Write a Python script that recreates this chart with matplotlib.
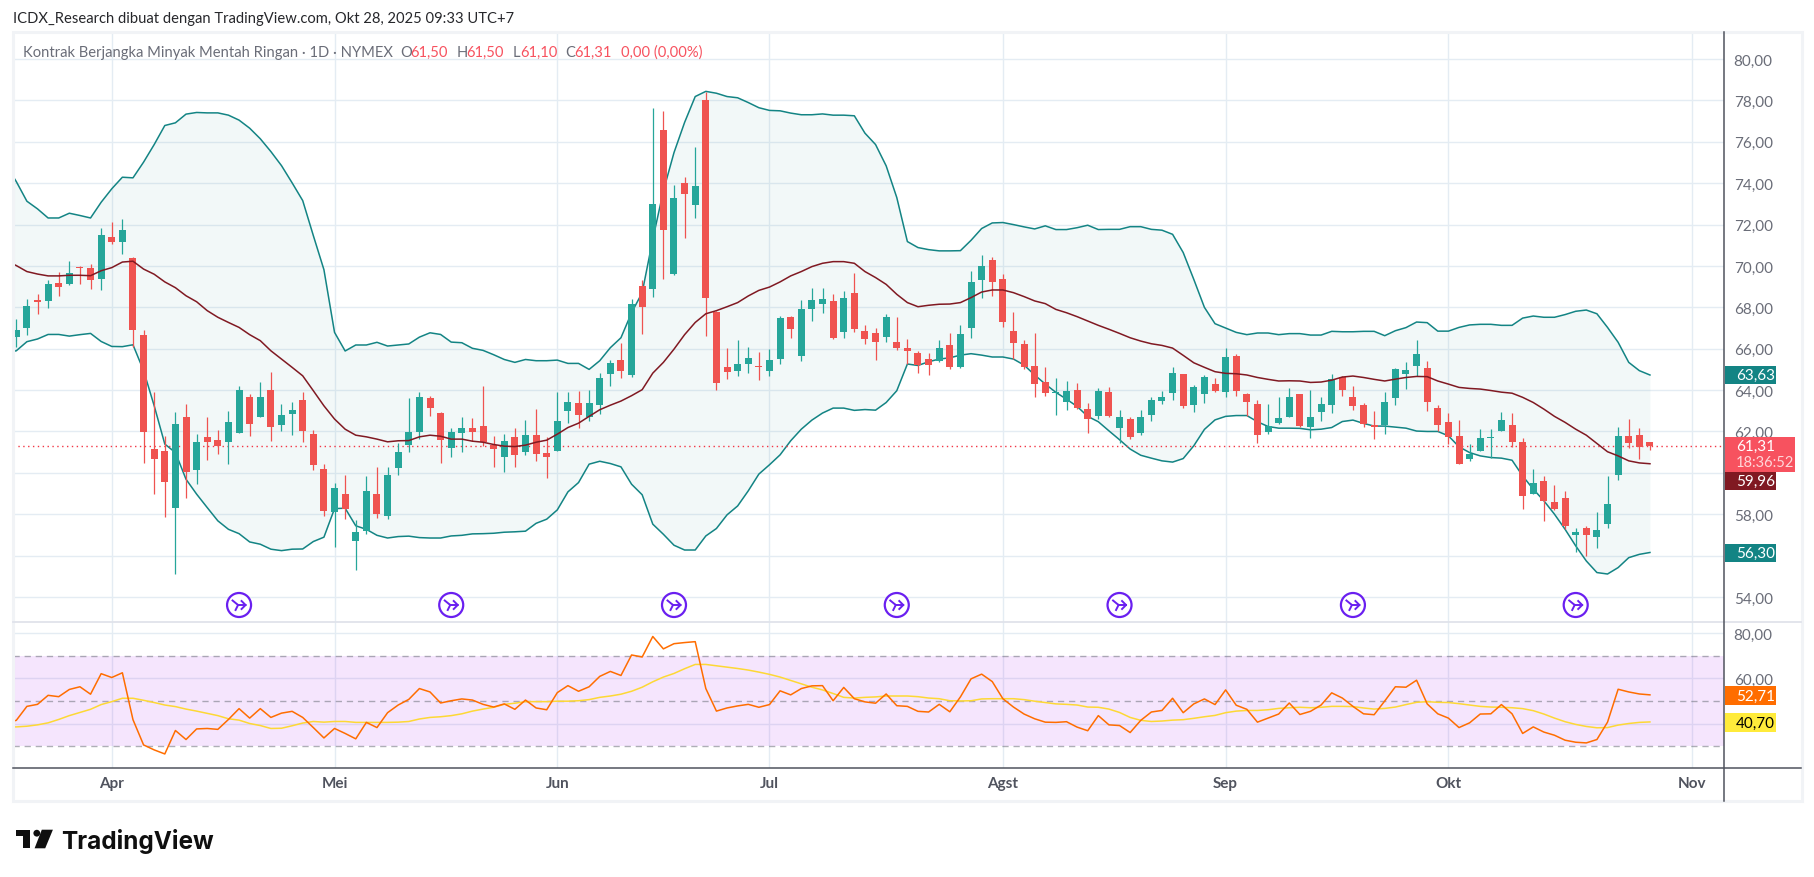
import numpy as np
import matplotlib
matplotlib.use("Agg")
from matplotlib import pyplot as plt
from matplotlib.patches import Rectangle, Circle, Polygon

plt.rcParams['font.family'] = ['Lato', 'DejaVu Sans']

# daily candles, first one is index 0
opens = [66.58, 67.0, 68.35, 68.32, 69.18, 69.13, 69.97, 69.89, 69.39, 71.4,
         71.16, 70.39, 66.66, 61.15, 61.05, 58.29, 62.69, 60.13, 61.73, 61.58,
         61.48, 61.92, 63.66, 62.69, 64.0, 62.31, 62.84, 63.52, 61.87, 60.18,
         58.1, 58.97, 56.69, 57.18, 58.97, 57.9, 60.23, 61.34, 61.97, 63.61,
         62.89, 61.19, 61.92, 62.16, 62.26, 61.34, 60.76, 61.73, 61.0, 61.82,
         60.95, 61.05, 62.98, 63.37, 62.69, 63.27, 64.77, 65.45, 64.71, 69.02,
         68.87, 76.56, 69.6, 74.0, 72.94, 78.02, 67.77, 65.11, 64.92, 65.26,
         65.16, 64.92, 65.5, 67.53, 65.65, 67.92, 68.15, 68.29, 66.79, 68.68,
         66.84, 66.74, 66.55, 66.31, 66.02, 65.77, 65.48, 65.39, 66.16, 65.1,
         66.98, 69.31, 70.27, 69.35, 66.84, 66.21, 65.16, 64.39, 63.85, 63.42,
         64.0, 63.08, 62.74, 63.9, 62.16, 62.6, 61.92, 62.79, 63.47, 63.85,
         64.77, 63.27, 63.81, 64.29, 63.9, 65.65, 63.81, 63.32, 61.97, 62.4,
         62.69, 63.81, 62.21, 62.94, 63.27, 64.63, 63.66, 63.27, 62.31, 62.31,
         63.61, 64.77, 65.16, 65.06, 63.13, 62.45, 61.77, 60.66, 61.08, 61.68,
         62.02, 62.31, 61.48, 58.97, 59.6, 58.58, 58.77, 56.98, 57.32, 56.89,
         57.52, 59.89, 61.77, 61.82, 61.5]
highs = [67.44, 68.4, 68.65, 69.32, 69.7, 70.24, 69.98, 70.1, 71.84, 72.13,
         72.27, 70.42, 66.9, 63.9, 61.77, 62.94, 63.32, 61.87, 62.69, 62.06,
         62.98, 64.19, 63.8, 64.39, 64.87, 63.32, 63.42, 63.9, 62.06, 60.42,
         59.5, 59.89, 57.71, 59.84, 60.27, 60.27, 61.44, 63.61, 63.9, 63.71,
         62.94, 62.16, 62.69, 62.65, 64.19, 61.77, 61.87, 62.16, 62.55, 63.08,
         61.73, 63.9, 63.9, 63.95, 64.0, 64.82, 65.45, 66.27, 68.39, 69.31,
         77.63, 77.48, 73.9, 74.29, 75.74, 78.4, 67.8, 66.03, 66.42, 66.08,
         65.84, 65.98, 67.58, 67.58, 68.35, 68.92, 68.92, 68.63, 68.77, 69.65,
         67.13, 66.98, 67.66, 67.52, 66.45, 65.87, 65.77, 66.4, 66.74, 67.13,
         69.74, 70.52, 70.42, 69.6, 67.76, 66.4, 66.76, 65.11, 64.58, 64.44,
         64.34, 63.37, 64.1, 64.15, 63.03, 62.69, 63.03, 63.66, 63.95, 65.11,
         64.77, 64.24, 64.73, 64.58, 66.03, 65.74, 63.85, 63.52, 63.32, 63.66,
         64.1, 63.81, 64.0, 63.66, 64.77, 64.68, 64.19, 63.37, 62.98, 63.9,
         65.06, 65.35, 66.42, 65.4, 63.27, 62.89, 62.55, 61.39, 62.11, 62.11,
         62.94, 62.89, 61.68, 60.18, 59.84, 59.4, 59.11, 57.32, 57.42, 58.1,
         59.84, 62.21, 62.6, 62.16, 61.5]
lows = [66.1, 66.68, 67.68, 67.97, 68.56, 69.08, 69.13, 68.89, 68.84, 71.06,
        70.58, 66.1, 60.47, 58.97, 57.85, 55.1, 58.77, 59.45, 60.61, 60.9,
        60.42, 61.92, 61.77, 62.69, 61.53, 62.02, 61.82, 61.48, 60.13, 57.9,
        56.4, 57.76, 55.29, 57.03, 57.81, 57.76, 59.89, 61.0, 61.63, 62.74,
        60.47, 60.76, 61.0, 61.53, 61.29, 60.27, 60.03, 60.27, 60.85, 60.56,
        59.74, 61.05, 62.4, 62.16, 62.5, 62.84, 64.19, 64.58, 64.61, 66.69,
        68.48, 69.35, 69.55, 71.34, 72.31, 66.6, 64.0, 64.53, 64.68, 64.82,
        64.48, 64.68, 65.26, 66.52, 65.4, 67.32, 67.71, 66.45, 66.5, 66.79,
        66.21, 65.44, 66.31, 65.92, 65.26, 64.81, 64.71, 65.34, 65.0, 65.05,
        66.5, 68.44, 68.53, 67.03, 65.5, 65.0, 63.66, 63.71, 62.79, 63.03,
        63.08, 61.92, 62.6, 62.69, 61.44, 61.63, 61.82, 62.5, 63.32, 63.52,
        63.13, 62.94, 63.37, 63.9, 63.66, 63.71, 62.74, 61.44, 61.87, 62.35,
        62.69, 62.21, 61.68, 62.5, 62.89, 63.71, 63.03, 62.21, 61.63, 61.87,
        63.27, 64.05, 64.68, 62.98, 62.02, 61.39, 60.42, 60.56, 61.05, 60.71,
        62.02, 61.27, 58.24, 58.97, 57.66, 58.19, 57.27, 56.16, 55.97, 56.35,
        57.32, 59.65, 61.19, 60.66, 61.1]
closes = [66.9, 68.06, 68.27, 69.13, 68.98, 69.66, 69.92, 69.32, 71.5, 71.16,
          71.74, 66.9, 61.97, 60.66, 59.55, 62.35, 60.03, 61.48, 61.48, 61.29,
          62.45, 64.0, 62.35, 63.66, 62.21, 62.79, 63.03, 62.02, 60.37, 58.15,
          59.26, 58.24, 57.13, 59.11, 58.0, 59.89, 61.0, 61.97, 63.66, 63.13,
          61.58, 61.97, 62.16, 61.97, 61.48, 61.15, 61.53, 60.85, 61.82, 60.9,
          60.76, 62.5, 63.42, 62.79, 63.37, 64.58, 65.31, 64.92, 68.15, 68.0,
          72.98, 71.73, 73.27, 73.47, 73.85, 68.44, 64.34, 64.87, 65.26, 65.55,
          65.13, 65.45, 67.48, 66.95, 67.92, 68.35, 68.39, 66.5, 68.44, 66.94,
          66.45, 66.31, 67.52, 66.02, 65.87, 65.19, 65.19, 66.02, 65.1, 66.69,
          69.21, 69.98, 69.21, 67.27, 66.26, 65.1, 64.29, 63.85, 63.9, 63.95,
          63.13, 62.6, 63.95, 62.74, 62.69, 61.73, 62.69, 63.52, 63.66, 64.82,
          63.23, 64.15, 64.63, 63.95, 65.6, 63.95, 63.42, 61.82, 62.26, 62.65,
          63.66, 62.26, 62.69, 63.32, 64.53, 64.0, 63.23, 62.35, 62.21, 63.42,
          65.02, 64.97, 65.74, 63.42, 62.31, 61.73, 60.42, 60.9, 61.68, 61.73,
          62.55, 61.48, 58.87, 59.5, 58.63, 58.24, 57.42, 57.13, 56.98, 57.23,
          58.48, 61.77, 61.44, 61.24, 61.31]

# bollinger bands and rsi start one bar earlier (index -1), clipped at the pane edge
bb_upper = [74.9, 74.08, 73.13, 72.76, 72.32, 72.32, 72.55, 72.44, 72.32, 73.08,
            73.73, 74.29, 74.26, 75.02, 75.87, 76.79, 76.92, 77.34, 77.42, 77.4,
            77.4, 77.29, 77.05, 76.66, 76.15, 75.53, 74.85, 74.02, 73.16, 71.47,
            69.82, 66.79, 65.89, 66.18, 66.18, 66.31, 66.13, 66.18, 66.23, 66.56,
            66.77, 66.69, 66.32, 66.29, 66.02, 65.92, 65.71, 65.48, 65.34, 65.48,
            65.42, 65.42, 65.45, 65.29, 65.29, 65.0, 65.42, 66.05, 66.53, 67.74,
            68.71, 71.29, 73.63, 75.48, 76.94, 78.19, 78.44, 78.35, 78.19, 78.13,
            77.9, 77.65, 77.52, 77.5, 77.39, 77.31, 77.31, 77.35, 77.29, 77.29,
            77.26, 76.42, 75.87, 74.84, 73.31, 71.18, 70.89, 70.79, 70.73, 70.73,
            70.74, 71.24, 71.81, 72.08, 72.1, 72.0, 71.89, 71.79, 71.94, 71.76,
            71.76, 71.85, 71.97, 71.76, 71.77, 71.77, 71.9, 71.9, 71.77, 71.73,
            71.53, 70.65, 69.35, 68.0, 67.21, 67.0, 66.79, 66.68, 66.76, 66.76,
            66.68, 66.73, 66.73, 66.66, 66.66, 66.84, 66.82, 66.82, 66.84, 66.84,
            66.63, 66.87, 67.02, 67.29, 67.26, 66.85, 66.85, 67.03, 67.15, 67.18,
            67.18, 67.13, 67.13, 67.48, 67.58, 67.52, 67.52, 67.65, 67.81, 67.87,
            67.69, 67.03, 66.31, 65.34, 64.94, 64.73]
bb_basis = [70.26, 70.02, 69.73, 69.61, 69.52, 69.52, 69.55, 69.55, 69.53, 69.77,
            69.92, 70.19, 70.23, 69.85, 69.6, 69.23, 68.95, 68.56, 68.27, 67.84,
            67.52, 67.27, 67.03, 66.68, 66.39, 65.9, 65.5, 65.1, 64.69, 63.97,
            63.24, 62.6, 62.11, 61.82, 61.74, 61.63, 61.5, 61.55, 61.56, 61.74,
            61.82, 61.77, 61.63, 61.63, 61.53, 61.48, 61.37, 61.29, 61.27, 61.34,
            61.48, 61.58, 61.87, 62.19, 62.4, 62.73, 63.05, 63.27, 63.47, 63.73,
            64.02, 64.82, 65.34, 65.98, 66.68, 67.27, 67.69, 67.84, 68.03, 68.23,
            68.55, 68.82, 68.98, 69.23, 69.52, 69.73, 69.97, 70.13, 70.21, 70.21,
            70.13, 69.73, 69.44, 69.11, 68.63, 68.23, 68.03, 68.1, 68.15, 68.16,
            68.23, 68.47, 68.74, 68.84, 68.84, 68.71, 68.52, 68.31, 68.18, 67.9,
            67.74, 67.55, 67.34, 67.13, 66.94, 66.74, 66.53, 66.37, 66.24, 66.16,
            66.03, 65.68, 65.32, 65.1, 64.89, 64.81, 64.79, 64.73, 64.61, 64.52,
            64.44, 64.45, 64.44, 64.37, 64.39, 64.48, 64.63, 64.68, 64.61, 64.52,
            64.44, 64.53, 64.61, 64.66, 64.65, 64.44, 64.29, 64.13, 64.08, 64.05,
            63.98, 63.9, 63.85, 63.65, 63.4, 63.08, 62.73, 62.44, 62.11, 61.82,
            61.42, 61.02, 60.82, 60.58, 60.48, 60.44]
bb_lower = [65.82, 65.9, 66.34, 66.47, 66.69, 66.69, 66.61, 66.68, 66.74, 66.35,
            66.11, 66.1, 66.19, 64.94, 63.24, 61.39, 60.98, 59.69, 58.97, 58.32,
            57.68, 57.27, 57.06, 56.66, 56.55, 56.31, 56.24, 56.31, 56.32, 56.68,
            56.89, 58.27, 58.29, 57.44, 57.27, 56.98, 56.85, 56.92, 56.94, 56.87,
            56.85, 56.85, 56.95, 56.98, 57.05, 57.06, 57.08, 57.13, 57.15, 57.18,
            57.56, 57.76, 58.21, 59.08, 59.53, 60.42, 60.56, 60.45, 60.29, 59.45,
            58.94, 57.52, 57.03, 56.5, 56.27, 56.27, 56.95, 57.31, 57.97, 58.4,
            59.13, 59.94, 60.39, 60.87, 61.55, 62.11, 62.55, 62.89, 63.13, 63.13,
            63.02, 63.06, 63.03, 63.4, 63.97, 65.26, 65.19, 65.37, 65.5, 65.56,
            65.69, 65.76, 65.69, 65.6, 65.6, 65.5, 65.21, 64.73, 64.29, 63.89,
            63.56, 63.21, 62.73, 62.47, 62.03, 61.6, 61.15, 60.85, 60.71, 60.58,
            60.52, 60.69, 61.31, 62.1, 62.56, 62.73, 62.77, 62.77, 62.47, 62.24,
            62.16, 62.16, 62.15, 62.08, 62.11, 62.19, 62.48, 62.55, 62.39, 62.26,
            62.26, 62.21, 62.16, 62.02, 62.0, 62.0, 61.79, 61.26, 60.98, 60.82,
            60.74, 60.71, 60.61, 59.85, 59.21, 58.65, 58.0, 57.27, 56.47, 55.74,
            55.18, 55.11, 55.42, 55.9, 56.06, 56.15]
rsi = [40.3, 41.4, 47.6, 48.5, 52.5, 51.9, 55.1, 56.3, 53.0, 62.1,
       60.4, 62.5, 41.7, 30.5, 28.3, 26.5, 36.9, 32.9, 37.6, 37.8,
       37.4, 41.8, 46.6, 42.4, 46.6, 42.7, 44.6, 45.4, 42.7, 38.2,
       33.6, 37.8, 35.6, 33.2, 40.5, 38.2, 44.8, 48.2, 50.7, 55.5,
       54.0, 49.1, 50.1, 50.9, 50.4, 48.5, 47.3, 48.7, 46.3, 50.4,
       46.9, 46.1, 53.7, 56.8, 54.3, 56.3, 60.9, 63.1, 61.3, 70.4,
       69.5, 78.6, 73.1, 75.4, 75.9, 76.3, 55.5, 45.5, 46.9, 47.8,
       48.5, 47.2, 48.4, 54.5, 52.7, 55.5, 56.7, 56.8, 50.1, 56.0,
       51.0, 49.6, 49.0, 53.1, 47.9, 47.6, 45.4, 45.1, 48.5, 45.2,
       51.8, 59.8, 61.9, 58.6, 51.0, 47.3, 44.2, 42.1, 40.6, 40.5,
       40.8, 38.4, 36.8, 43.5, 39.4, 39.1, 36.0, 41.4, 45.1, 45.8,
       51.2, 44.8, 48.7, 50.9, 48.4, 54.9, 48.1, 46.3, 40.6, 42.4,
       44.2, 49.1, 44.0, 45.4, 48.2, 53.6, 51.3, 47.6, 44.3, 43.9,
       50.0, 56.3, 56.1, 59.2, 48.7, 44.3, 42.4, 38.2, 40.3, 44.2,
       44.3, 48.4, 44.3, 35.6, 38.5, 36.2, 34.8, 32.6, 31.7, 31.4,
       32.9, 40.6, 55.2, 54.0, 53.1, 52.71]
rsi_ma = [38.4, 38.5, 38.8, 39.4, 40.3, 41.8, 43.5, 44.9, 46.3, 48.4,
          49.7, 51.2, 51.2, 50.3, 49.3, 48.2, 47.5, 46.4, 45.5, 44.5,
          43.5, 42.1, 41.5, 40.0, 39.1, 37.8, 37.9, 39.0, 40.2, 40.9,
          40.6, 40.9, 40.9, 40.5, 40.5, 40.5, 40.5, 40.6, 40.9, 42.0,
          42.7, 43.0, 43.5, 44.3, 45.5, 46.4, 47.2, 48.5, 49.0, 49.7,
          49.7, 49.7, 49.9, 49.9, 50.1, 50.6, 51.6, 52.2, 53.0, 54.3,
          56.1, 58.5, 60.6, 62.2, 64.3, 66.2, 66.2, 65.6, 65.0, 64.4,
          63.7, 62.8, 61.8, 60.6, 59.1, 57.6, 56.1, 54.9, 53.3, 51.6,
          51.3, 51.6, 51.8, 52.2, 52.2, 52.2, 51.9, 51.3, 51.0, 50.1,
          50.0, 50.1, 50.9, 51.0, 51.0, 51.0, 50.6, 49.9, 49.3, 48.7,
          48.5, 48.2, 47.3, 47.2, 46.4, 44.9, 42.7, 41.4, 40.9, 41.1,
          41.5, 41.7, 42.3, 43.0, 43.6, 44.8, 45.5, 45.8, 45.8, 46.1,
          46.7, 47.0, 47.2, 47.0, 47.2, 47.6, 47.6, 47.5, 46.9, 46.4,
          46.7, 47.3, 48.4, 49.4, 49.7, 49.4, 49.3, 48.8, 48.2, 47.6,
          47.3, 47.2, 47.0, 46.6, 45.7, 44.2, 42.4, 40.8, 39.6, 38.7,
          38.1, 38.2, 39.3, 40.0, 40.5, 40.7]

month_pos = [9, 30, 51, 71, 93, 114, 135, 158]
month_labels = ['Apr', 'Mei', 'Jun', 'Jul', 'Agst', 'Sep', 'Okt', 'Nov']
price_ticks = [54, 56, 58, 60, 62, 64, 66, 68, 70, 72, 74, 76, 78, 80]
rsi_ticks = [40, 60, 80]
# these scale labels sit under the coloured price labels in the reference
hidden_ticks = [40, 56, 60]
hidden_price = [56, 60]
last_price = 61.31
split_bars = [21, 41, 62, 83, 104, 126, 147]

GREEN = '#26a69a'
RED = '#ef5350'
BAND = '#138484'
BASIS = '#801922'
GRID = '#e4ecf3'
TXT = '#6a6d78'
W, H = 1814, 878


def pane(x0, y0, x1, y1):
    # pixel box (top-left origin) to figure fractions
    return [x0 / W, 1 - y1 / H, (x1 - x0) / W, (y1 - y0) / H]


def fmt(v):
    return f'{v:.2f}'.replace('.', ',')


fig = plt.figure(figsize=(W / 100, H / 100), dpi=100, facecolor='white')
ax = fig.add_axes(pane(13, 33, 1724, 623))
ax2 = fig.add_axes(pane(13, 623, 1724, 769), sharex=ax)

for a in (ax, ax2):
    for s in a.spines.values():
        s.set_visible(False)
    a.set_axisbelow(True)
    a.grid(True, color=GRID, lw=1)
    a.yaxis.tick_right()
    a.tick_params(axis='both', length=0, labelsize=11, labelcolor=TXT, pad=7)

# price pane
ax.set_xlim(-0.31, 160.98)
ax.set_ylim(52.79, 81.31)
ax.set_yticks(price_ticks, ['' if v in hidden_price else fmt(v) for v in price_ticks])
ax.set_xticks(month_pos)
ax.tick_params(axis='x', labelbottom=False)

bx = np.arange(-1, len(bb_upper) - 1)
ax.fill_between(bx, bb_lower, bb_upper, color=BAND, alpha=0.05, lw=0, zorder=1)
ax.plot(bx, bb_upper, color=BAND, lw=1.1, zorder=2)
ax.plot(bx, bb_lower, color=BAND, lw=1.1, zorder=2)
ax.axhline(last_price, color='#f23645', lw=1, ls=(0, (1, 2.5)), zorder=2)

idx = np.arange(len(opens))
o = np.array(opens)
c = np.array(closes)
colors = np.where(c >= o, GREEN, RED)
ax.vlines(idx, lows, highs, colors=colors, lw=0.9, zorder=3)
ax.bar(idx, np.maximum(np.abs(c - o), 0.05), bottom=np.minimum(o, c), width=0.66,
       color=colors, lw=0, zorder=4)
ax.plot(bx, bb_basis, color=BASIS, lw=1.1, zorder=5)

# rsi pane
ax2.set_ylim(20.27, 85.02)
ax2.set_yticks(rsi_ticks, ['' if v == 40 else fmt(v) for v in rsi_ticks])
ax2.set_xticks(month_pos, month_labels)
ax2.tick_params(axis='x', labelsize=11, labelcolor='#50535e', pad=6)
for lab in ax2.get_xticklabels():
    lab.set_fontweight('bold')
ax2.axhspan(30, 70, color='#a000f0', alpha=0.1, lw=0, zorder=1)
for lev in (30, 50, 70):
    ax2.axhline(lev, color='#787b86', alpha=0.6, lw=1, ls=(0, (4.5, 3.5)), zorder=2)
rx = np.arange(-1, len(rsi) - 1)
ax2.plot(rx, rsi_ma, color='#fdd835', lw=1.1, zorder=3)
ax2.plot(rx, rsi, color='#ff6d00', lw=1.1, zorder=4)

# everything around the panes goes on a full size overlay in pixels
ov = fig.add_axes([0, 0, 1, 1], zorder=10)
ov.set_xlim(0, W)
ov.set_ylim(H, 0)
ov.axis('off')

ov.add_patch(Rectangle((12.5, 33), 1789, 769.5, fill=False, ec='#f1f3f6', lw=2.2))
ov.plot([13, 1801], [623.3, 623.3], color='#e0e3eb', lw=1.3)
ov.plot([1724.3, 1724.3], [33, 802], color='#50535e', lw=1.1)
ov.plot([13, 1801], [768.7, 768.7], color='#50535e', lw=1.1)

ov.text(13, 19.5, 'ICDX_Research dibuat dengan TradingView.com, Okt 28, 2025 09:33 UTC+7',
        fontsize=10.65, color='#26272b', va='center')

legend_bits = [
    (23, 'Kontrak Berjangka Minyak Mentah Ringan · 1D · NYMEX', TXT),
    (400, 'O', TXT), (410, '61,50', '#f7525f'),
    (456.5, 'H', TXT), (466, '61,50', '#f7525f'),
    (512.5, 'L', TXT), (520, '61,10', '#f7525f'),
    (565, 'C', TXT), (574.6, '61,31', '#f7525f'),
    (621, '0,00 (0,00%)', '#f7525f'),
]
for x, s, col in legend_bits:
    ov.text(x, 53, s, fontsize=10.6, color=col, va='center')

# price labels on the scale
pills = [
    (367, 385, 1776, '#138484', '63,63', 'white'),
    (473, 491, 1776, '#801922', '59,96', 'white'),
    (545, 563, 1776, '#138484', '56,30', 'white'),
    (687, 706, 1776, '#ff6d00', '52,71', 'white'),
    (714, 733, 1776, '#ffeb3b', '40,70', 'black'),
]
for y0, y1, x1, col, s, tc in pills:
    ov.add_patch(Rectangle((1725, y0), x1 - 1725, y1 - y0, fc=col, ec='none'))
    ov.text(1736, (y0 + y1) / 2, s, fontsize=11, color=tc, va='center')
ov.add_patch(Rectangle((1725, 438), 70, 35, fc='#f7525f', ec='none'))
ov.text(1736, 447, fmt(last_price), fontsize=11, color='white', va='center')
ov.text(1736, 463, '18:36:52', fontsize=10.5, color='#ffd6d9', va='center')

# split markers under the price pane
for b in split_bars:
    cx = ax.transData.transform((b, 54))[0]
    cy = 606
    ov.add_patch(Circle((cx, cy), 12, fc='white', ec='#6a1ff0', lw=1.6))
    ov.plot([cx - 6.5, cx - 1, cx + 6.5], [cy - 4.5, cy, cy], color='#6a1ff0', lw=1.4)
    ov.plot([cx - 3.5, cx - 1], [cy + 5, cy], color='#6a1ff0', lw=1.4)
    ov.plot([cx + 2.5, cx + 6.5, cx + 2.5], [cy - 4, cy, cy + 4], color='#6a1ff0', lw=1.4)

# logo
ov.add_patch(Polygon([(15.6, 830.7), (30.4, 830.7), (30.4, 849.3), (22.6, 849.3),
                      (22.6, 837.5), (15.6, 837.5)], fc='#0f0f0f', ec='none'))
ov.add_patch(Circle((36.8, 834.2), 3.4, fc='#0f0f0f', ec='none'))
ov.add_patch(Polygon([(41.8, 830.7), (52.9, 830.7), (45.2, 849.3), (34.6, 849.3)],
                     fc='#0f0f0f', ec='none'))
ov.text(61.5, 849.5, 'TradingView', fontsize=17.5, color='#0f0f0f', fontweight='bold',
        va='baseline', family=['Inter', 'DejaVu Sans'])

fig.savefig('out.png', dpi=100)
